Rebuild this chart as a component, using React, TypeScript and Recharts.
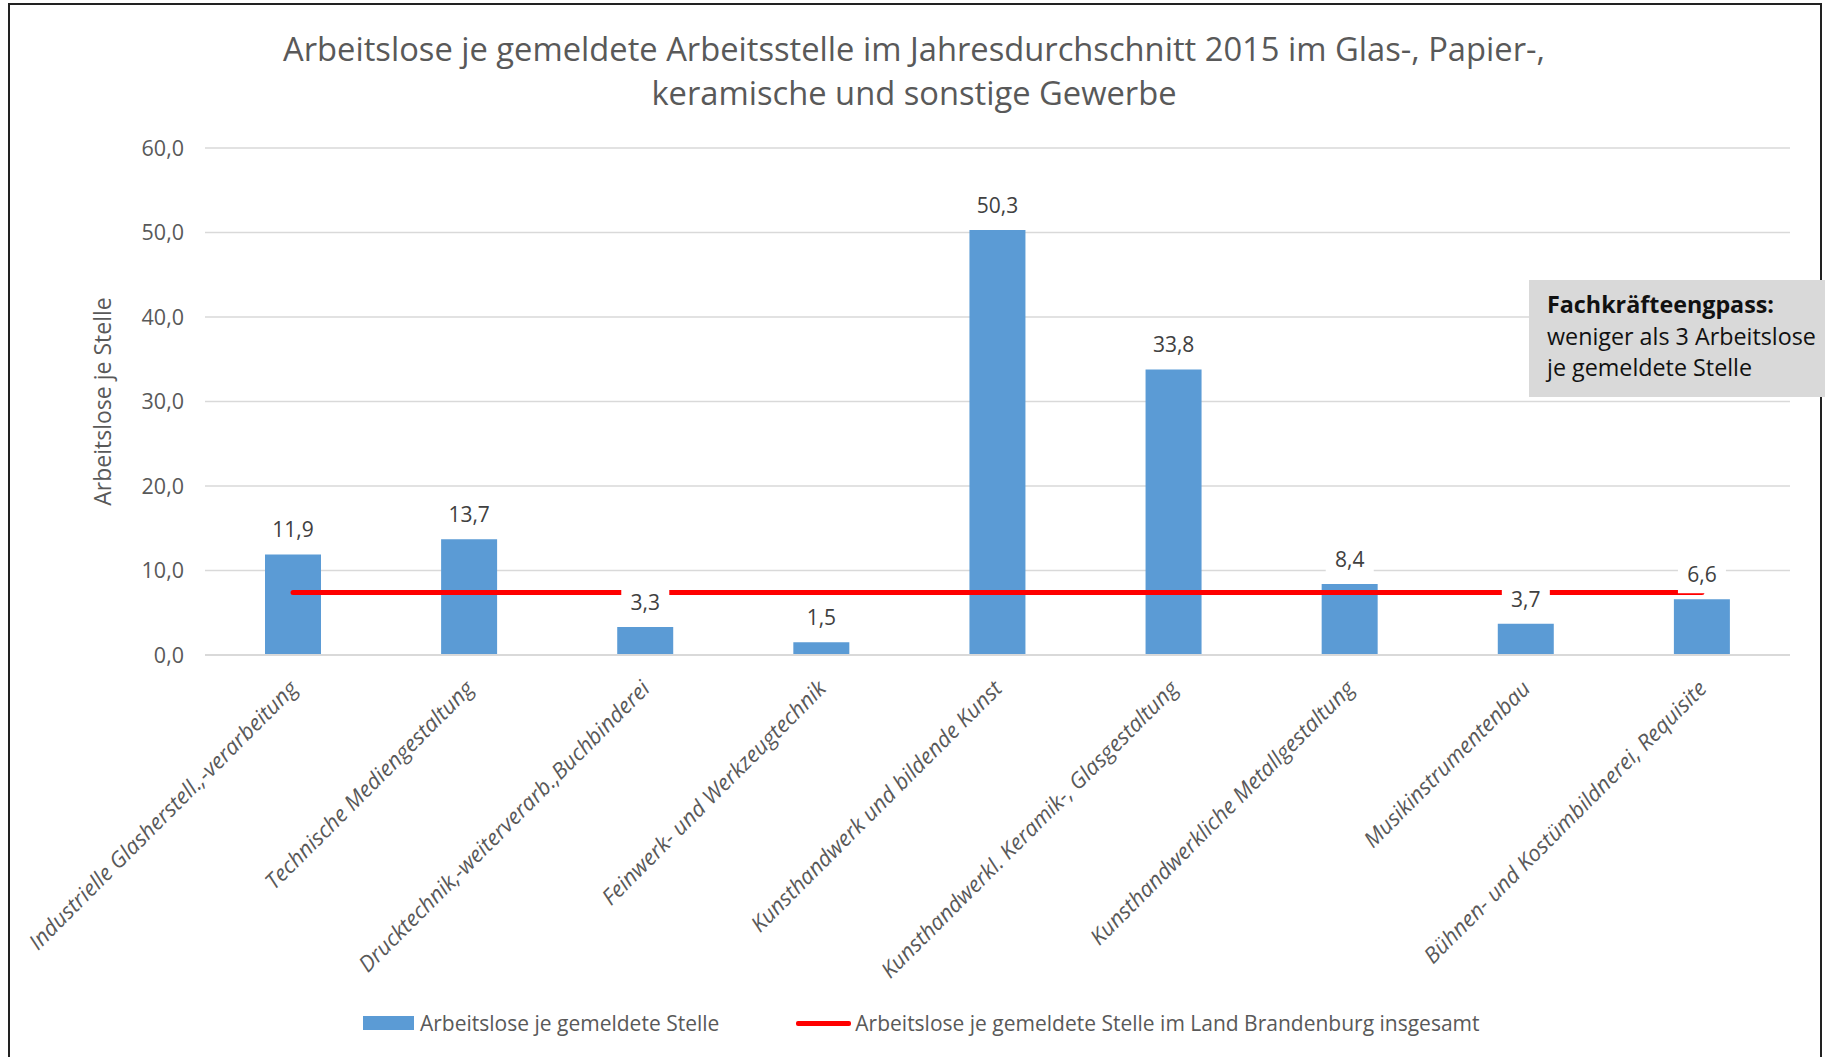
import React from 'react';
import { ComposedChart, Bar, Line, XAxis, YAxis, CartesianGrid, LabelList } from 'recharts';

const kategorien = [
  'Industrielle Glasherstell.,-verarbeitung',
  'Technische Mediengestaltung',
  'Drucktechnik,-weiterverarb.,Buchbinderei',
  'Feinwerk- und Werkzeugtechnik',
  'Kunsthandwerk und bildende Kunst',
  'Kunsthandwerkl. Keramik-, Glasgestaltung',
  'Kunsthandwerkliche Metallgestaltung',
  'Musikinstrumentenbau',
  'Bühnen- und Kostümbildnerei, Requisite',
];

// Arbeitslose je gemeldete Stelle
const werte = [11.9, 13.7, 3.3, 1.5, 50.3, 33.8, 8.4, 3.7, 6.6];

// Land Brandenburg insgesamt (flat reference line)
const landesWert = [7.4, 7.4, 7.4, 7.4, 7.4, 7.4, 7.4, 7.4, 7.4];

const yTicks = [0, 10, 20, 30, 40, 50, 60];

const titelZeilen = [
  'Arbeitslose je gemeldete Arbeitsstelle im Jahresdurchschnitt 2015 im Glas-, Papier-,',
  'keramische und sonstige Gewerbe',
];

const serienNamen = [
  'Arbeitslose je gemeldete Stelle',
  'Arbeitslose je gemeldete Stelle im Land Brandenburg insgesamt',
];

const hinweisTitel = 'Fachkräfteengpass:';
const hinweisZeilen = ['weniger als 3 Arbeitslose', 'je gemeldete Stelle'];

const FONT = '"Open Sans", "Noto Sans", sans-serif';
const BLAU = '#5b9bd5';
const ROT = '#ff0000';

const data = kategorien.map((k, i) => ({ kategorie: k, wert: werte[i], land: landesWert[i] }));

const fmt = (v: number) => v.toFixed(1).replace('.', ',');

const XTick = (props: any) => {
  const { x, y, payload } = props;
  return (
    <g transform={`translate(${x + 6},${y + 35})`}>
      <text
        textAnchor="end"
        transform="rotate(-45)"
        fontStyle="italic"
        fontSize={22}
        fill="#595959"
        fontFamily={FONT}
      >
        {payload.value}
      </text>
    </g>
  );
};

const WertLabel = (props: any) => {
  const vb = props.viewBox || {};
  const x = props.x ?? vb.x;
  const y = props.y ?? vb.y;
  if (x == null || y == null) return null;
  return (
    <g>
      <rect x={x - 24} y={y - 42} width={48} height={36} fill="#fff" />
      <text x={x} y={y - 17} textAnchor="middle" fontSize={21} fill="#404040" fontFamily={FONT}>
        {fmt(Number(props.value))}
      </text>
    </g>
  );
};

export default function App() {
  return (
    <div
      style={{
        position: 'absolute',
        left: 0,
        top: 0,
        width: 1825,
        height: 1057,
        background: '#fff',
        overflow: 'hidden',
        fontFamily: FONT,
      }}
    >
      <div
        style={{
          position: 'absolute',
          left: 8,
          top: 3,
          width: 1814,
          height: 1100,
          border: '2.5px solid #222',
          boxSizing: 'border-box',
        }}
      />

      <div style={{ position: 'absolute', left: 0, top: 0 }}>
        <ComposedChart
          width={1825}
          height={1057}
          data={data}
          margin={{ top: 148, right: 35, left: 0, bottom: 152 }}
        >
          <CartesianGrid vertical={false} stroke="#d9d9d9" strokeWidth={1.5} />
          <XAxis
            dataKey="kategorie"
            interval={0}
            height={250}
            tickLine={false}
            tickSize={0}
            tickMargin={0}
            axisLine={{ stroke: '#d9d9d9', strokeWidth: 2 }}
            tick={<XTick />}
          />
          <YAxis
            type="number"
            domain={[0, 60]}
            ticks={yTicks}
            width={205}
            axisLine={false}
            tickLine={false}
            tickMargin={15}
            tickFormatter={fmt}
            tick={{ fill: '#595959', fontSize: 21.5, fontFamily: FONT }}
            label={{
              value: 'Arbeitslose je Stelle',
              angle: -90,
              position: 'center',
              fill: '#595959',
              fontSize: 23,
              fontFamily: FONT,
            }}
          />
          <Bar dataKey="wert" fill={BLAU} barSize={56} isAnimationActive={false} />
          <Line
            dataKey="land"
            stroke={ROT}
            strokeWidth={5}
            strokeLinecap="round"
            dot={false}
            activeDot={false}
            isAnimationActive={false}
          />
          <Line
            dataKey="wert"
            stroke="none"
            dot={false}
            activeDot={false}
            legendType="none"
            isAnimationActive={false}
          >
            <LabelList dataKey="wert" content={<WertLabel />} />
          </Line>
        </ComposedChart>
      </div>

      <div
        style={{
          position: 'absolute',
          left: 0,
          width: 1828,
          top: 27,
          textAlign: 'center',
          fontSize: 32.7,
          lineHeight: '44px',
          color: '#595959',
          whiteSpace: 'nowrap',
        }}
      >
        {titelZeilen.map((z) => (
          <div key={z}>{z}</div>
        ))}
      </div>

      <div
        style={{
          position: 'absolute',
          left: 363,
          top: 1008,
          height: 30,
          display: 'flex',
          alignItems: 'center',
          fontSize: 21,
          color: '#595959',
          whiteSpace: 'nowrap',
        }}
      >
        <span style={{ width: 51, height: 14, background: BLAU, display: 'inline-block' }} />
        <span style={{ marginLeft: 6 }}>{serienNamen[0]}</span>
        <span
          style={{
            width: 55,
            height: 5,
            background: ROT,
            borderRadius: 2,
            display: 'inline-block',
            marginLeft: 77,
          }}
        />
        <span style={{ marginLeft: 4 }}>{serienNamen[1]}</span>
      </div>

      <div
        style={{
          position: 'absolute',
          left: 1529,
          top: 280,
          width: 296,
          height: 117,
          background: '#d9d9d9',
          boxSizing: 'border-box',
          padding: '9px 0 0 18px',
          fontSize: 23.3,
          lineHeight: '31.5px',
          color: '#111',
          whiteSpace: 'nowrap',
        }}
      >
        <div style={{ fontWeight: 700 }}>{hinweisTitel}</div>
        {hinweisZeilen.map((z) => (
          <div key={z}>{z}</div>
        ))}
      </div>
    </div>
  );
}
